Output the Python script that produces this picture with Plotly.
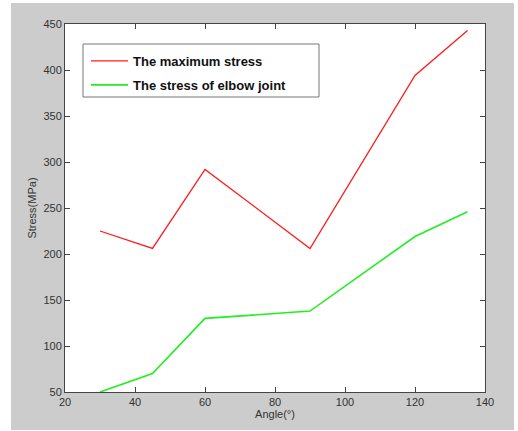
import plotly.graph_objects as go

angles = [30, 45, 60, 90, 120, 135]
max_stress = [225, 206, 292, 206, 394, 443]
elbow_stress = [50, 70, 130, 138, 219, 246]
x_ticks = [20, 40, 60, 80, 100, 120, 140]
y_ticks = [50, 100, 150, 200, 250, 300, 350, 400, 450]

W, H = 518, 431
L, R, T, B = 65, 33, 24, 39
pw, ph = W - L - R, H - T - B

def px(xp):
    return (xp - L) / pw

def py(yp):
    return (H - B - yp) / ph

fig = go.Figure()
fig.add_trace(go.Scatter(x=angles, y=max_stress, mode="lines", name="The maximum stress",
                         line=dict(color="#ff1a1a", width=1.3), legendgroup="a"))
fig.add_trace(go.Scatter(x=angles, y=elbow_stress, mode="lines", name="The stress of elbow joint",
                         line=dict(color="#22ee22", width=1.6), legendgroup="b"))

axis_common = dict(showline=True, mirror="ticks", linecolor="#444444", linewidth=1,
                   ticks="inside", ticklen=5, tickcolor="#444444", showgrid=False,
                   zeroline=False, automargin=False,
                   tickfont=dict(family="Liberation Sans, Arial", size=11, color="#333333"))

fig.update_xaxes(range=[20, 140], tickvals=x_ticks, ticktext=[str(v) for v in x_ticks],
                 title=dict(text="Angle(°)", font=dict(family="Liberation Sans, Arial", size=11, color="#333333"), standoff=2),
                 **axis_common)
fig.update_yaxes(range=[50, 450], tickvals=y_ticks, ticktext=[str(v) for v in y_ticks],
                 title=dict(text="Stress(MPa)", font=dict(family="Liberation Sans, Arial", size=11, color="#333333"), standoff=4),
                 **axis_common)

fig.update_layout(
    width=W, height=H,
    margin=dict(l=L, r=R, t=T, b=B),
    paper_bgcolor="white",
    plot_bgcolor="white",
    showlegend=True,
    legend=dict(x=px(86), y=py(46), xanchor="left", yanchor="top",
                bgcolor="rgba(0,0,0,0)", borderwidth=0,
                font=dict(family="Liberation Sans, Arial", size=13, color="#111111", weight="bold"),
                tracegroupgap=4, itemwidth=37),
    shapes=[
        dict(type="rect", xref="paper", yref="paper", x0=px(11), x1=px(514), y0=py(430), y1=py(3),
             fillcolor="#cccccc", line=dict(width=0), layer="below"),
        dict(type="rect", xref="paper", yref="paper", x0=0, x1=1, y0=0, y1=1,
             fillcolor="white", line=dict(width=0), layer="below"),
        dict(type="rect", xref="paper", yref="paper", x0=px(83), x1=px(319), y0=py(97), y1=py(44),
             fillcolor="white", line=dict(width=1, color="#777777"), layer="above"),
    ],
)

fig.write_html("out.html", config={"displayModeBar": False},
               post_script="document.body.style.margin='0';")
